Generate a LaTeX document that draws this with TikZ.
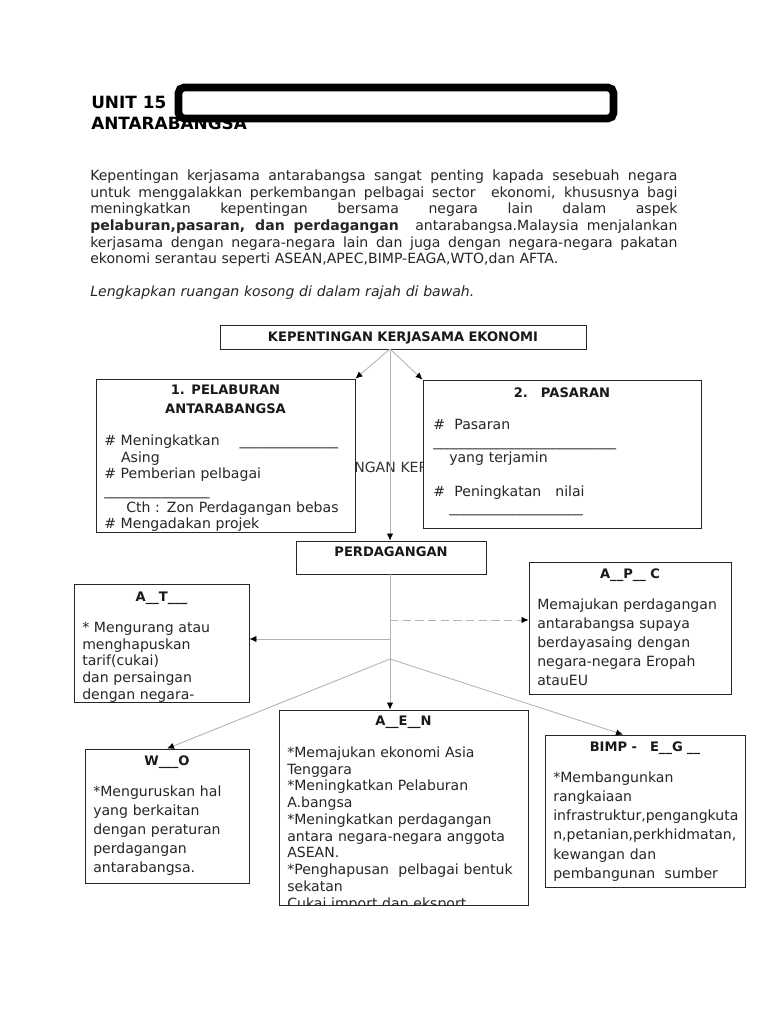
\documentclass[tikz,border=0pt]{standalone}
\usepackage{fontspec}
\setmainfont{DejaVu Sans}
\usetikzlibrary{arrows.meta, positioning, fit}

% blank to fill in
\newcommand{\kosong}[1]{\foreach \i in {1,...,#1}{\_}}

\begin{document}
\begin{tikzpicture}[x=0.025cm, y=-0.025cm,
  box/.style={draw=black!85, line width=0.6pt, fill=white, inner sep=0pt},
  head/.style={font=\bfseries\fontsize{9.3}{14.2}\selectfont, text width=7cm, align=center,
               inner sep=0pt, anchor=base, text=black!90},
  body/.style={font=\fontsize{10}{11.85}\selectfont, text width=7cm, align=left,
               inner sep=0pt, anchor=base west, text=black!85},
  wide/.style={body, font=\fontsize{10}{13.5}\selectfont},
  link/.style={draw=black!30, line width=0.6pt,
               -{Latex[color=black, length=5pt, width=4.5pt]}}]
  \fill[white] (0,0) rectangle (768,1024);
  \useasboundingbox (0,0) rectangle (768,1024);

  % title
  \node[font=\bfseries\fontsize{12}{14}\selectfont, inner sep=0pt, anchor=base west] (unit) at (91,109) {UNIT 15};
  \node[font=\bfseries\fontsize{12}{14}\selectfont, inner sep=0pt, anchor=base west] (antara) at (91,130) {ANTARABANGSA};
  \node[draw, line width=5.5pt, rounded corners=4pt, fill=white, inner sep=0pt,
        fit={(178.5,87.5) (613.5,118.5)}] (banner) {};

  % text
  \node[body, text width=14.675cm, align=justify] (intro) at (90,180.5)
    {Kepentingan kerjasama antarabangsa sangat penting kapada sesebuah negara\linebreak
     untuk menggalakkan perkembangan pelbagai sector\ \ ekonomi, khususnya bagi\linebreak
     meningkatkan kepentingan bersama negara lain dalam aspek\linebreak
     \textbf{pelaburan,pasaran, dan perdagangan}\ \ antarabangsa.Malaysia menjalankan\linebreak
     kerjasama dengan negara-negara lain dan juga dengan negara-negara pakatan\linebreak
     ekonomi serantau seperti ASEAN,APEC,BIMP-EAGA,WTO,dan AFTA.\par};
  \node[body, text width=12cm] (arahan) at (90,296.5) {\itshape Lengkapkan ruangan kosong di dalam rajah di bawah.};

  % top of the chart
  \node[box, fit={(220,325) (586,349)}] (kep) {};
  \node[head, text width=9cm] at (403,341) {KEPENTINGAN KERJASAMA EKONOMI};

  \node[body, text=black!80] (ghost) at (354,472.5) {NGAN KER};

  \node[box, fit={(96,379) (355,532)}] (pel) {};
  \node[head] (pelhead) at (225.5,394) {1. PELABURAN\\ANTARABANGSA};
  \begin{scope}
    \clip (pel.north west) rectangle (pel.south east);
    \node[body] (peltxt) at (104,445.5)
      {\# Meningkatkan\hspace{0.5cm}\kosong{14}\\
       \hspace*{0.42cm}Asing\\
       \# Pemberian pelbagai\\
       \kosong{15}\\
       \hspace*{0.55cm}Cth : Zon Perdagangan bebas\\
       \# Mengadakan projek};
  \end{scope}

  \node[box, fit={(423,380) (701,528)}] (pas) {};
  \node[head] (pashead) at (562,397) {2.\ \ \ PASARAN};
  \node[body] (pastxt) at (433,429.5)
    {\#\ \ Pasaran\\
     \kosong{26}\\
     \hspace*{0.4cm}yang terjamin\\[11.85pt]
     \#\ \ Peningkatan\ \ \ nilai\\
     \hspace*{0.4cm}\kosong{19}};

  \node[box, fit={(296,541) (486,574)}] (perd) {};
  \node[head] at (391,556) {PERDAGANGAN};

  % trade groups
  \node[box, fit={(74,584) (249,702)}] (at) {};
  \node[head] at (161.5,601) {A\_\_T\_\_\_};
  \begin{scope}
    \clip (at.north west) rectangle (at.south east);
    \node[body, font=\fontsize{10}{11.9}\selectfont] (attxt) at (82,632.5)
      {* Mengurang atau\\ menghapuskan\\ tarif(cukai)\\ dan persaingan\\ dengan negara-};
  \end{scope}

  \node[box, fit={(529,562) (731,694)}] (apec) {};
  \node[head] at (630,578) {A\_\_P\_\_ C};
  \node[wide] (apectxt) at (537,609.5)
    {Memajukan perdagangan\\ antarabangsa supaya\\ berdayasaing dengan\\ negara-negara Eropah\\ atauEU};

  \node[box, fit={(85,749) (249,883)}] (wto) {};
  \node[head] at (167,765) {W\_\_\_O};
  \node[wide] (wtotxt) at (93,796.5)
    {*Menguruskan hal\\ yang berkaitan\\ dengan peraturan\\ perdagangan\\ antarabangsa.};

  \node[box, fit={(279,710) (528,905)}] (aen) {};
  \node[head] at (403.5,725) {A\_\_E\_\_N};
  \begin{scope}
    \clip (aen.north west) rectangle (aen.south east);
    \node[body, font=\fontsize{10}{11.9}\selectfont] (aentxt) at (287,757.5)
      {{*}Memajukan ekonomi Asia\\ Tenggara\\ {*}Meningkatkan Pelaburan\\ A.bangsa\\
       {*}Meningkatkan perdagangan\\ antara negara-negara anggota\\ ASEAN.\\
       {*}Penghapusan\ \ pelbagai bentuk\\ sekatan\\ Cukai import dan eksport};
  \end{scope}

  \node[box, fit={(545,735) (745,887)}] (bimp) {};
  \node[head] at (645,751) {BIMP -\ \ \ E\_\_G \_\_};
  \node[wide, font=\fontsize{10}{13.6}\selectfont] (bimptxt) at (553,782.5)
    {*Membangunkan\\ rangkaiaan\\ infrastruktur,pengangkuta\\ n,petanian,perkhidmatan,\\
     kewangan dan\\ pembangunan\ \ sumber};

  % connectors
  \coordinate (hub) at (390,349);
  \draw[link] (hub) -- (pel.north east);
  \draw[link] (hub) -- (pas.north west);
  \draw[link] (hub) -- (hub |- perd.north);
  \coordinate (trunk) at (390,574);
  \draw[link] (trunk) -- (trunk |- aen.north);
  \coordinate (dashfork) at (390,620);
  \draw[link, dash pattern=on 6pt off 3pt] (dashfork) -- (dashfork -| apec.west);
  \coordinate (leftfork) at (390,639);
  \draw[link] (leftfork) -- (leftfork -| at.east);
  \coordinate (fork) at (390,659);
  \draw[link] (fork) -- (wto.north);
  \draw[link] (fork) -- ([xshift=-0.55cm]bimp.north);
\end{tikzpicture}
\end{document}
